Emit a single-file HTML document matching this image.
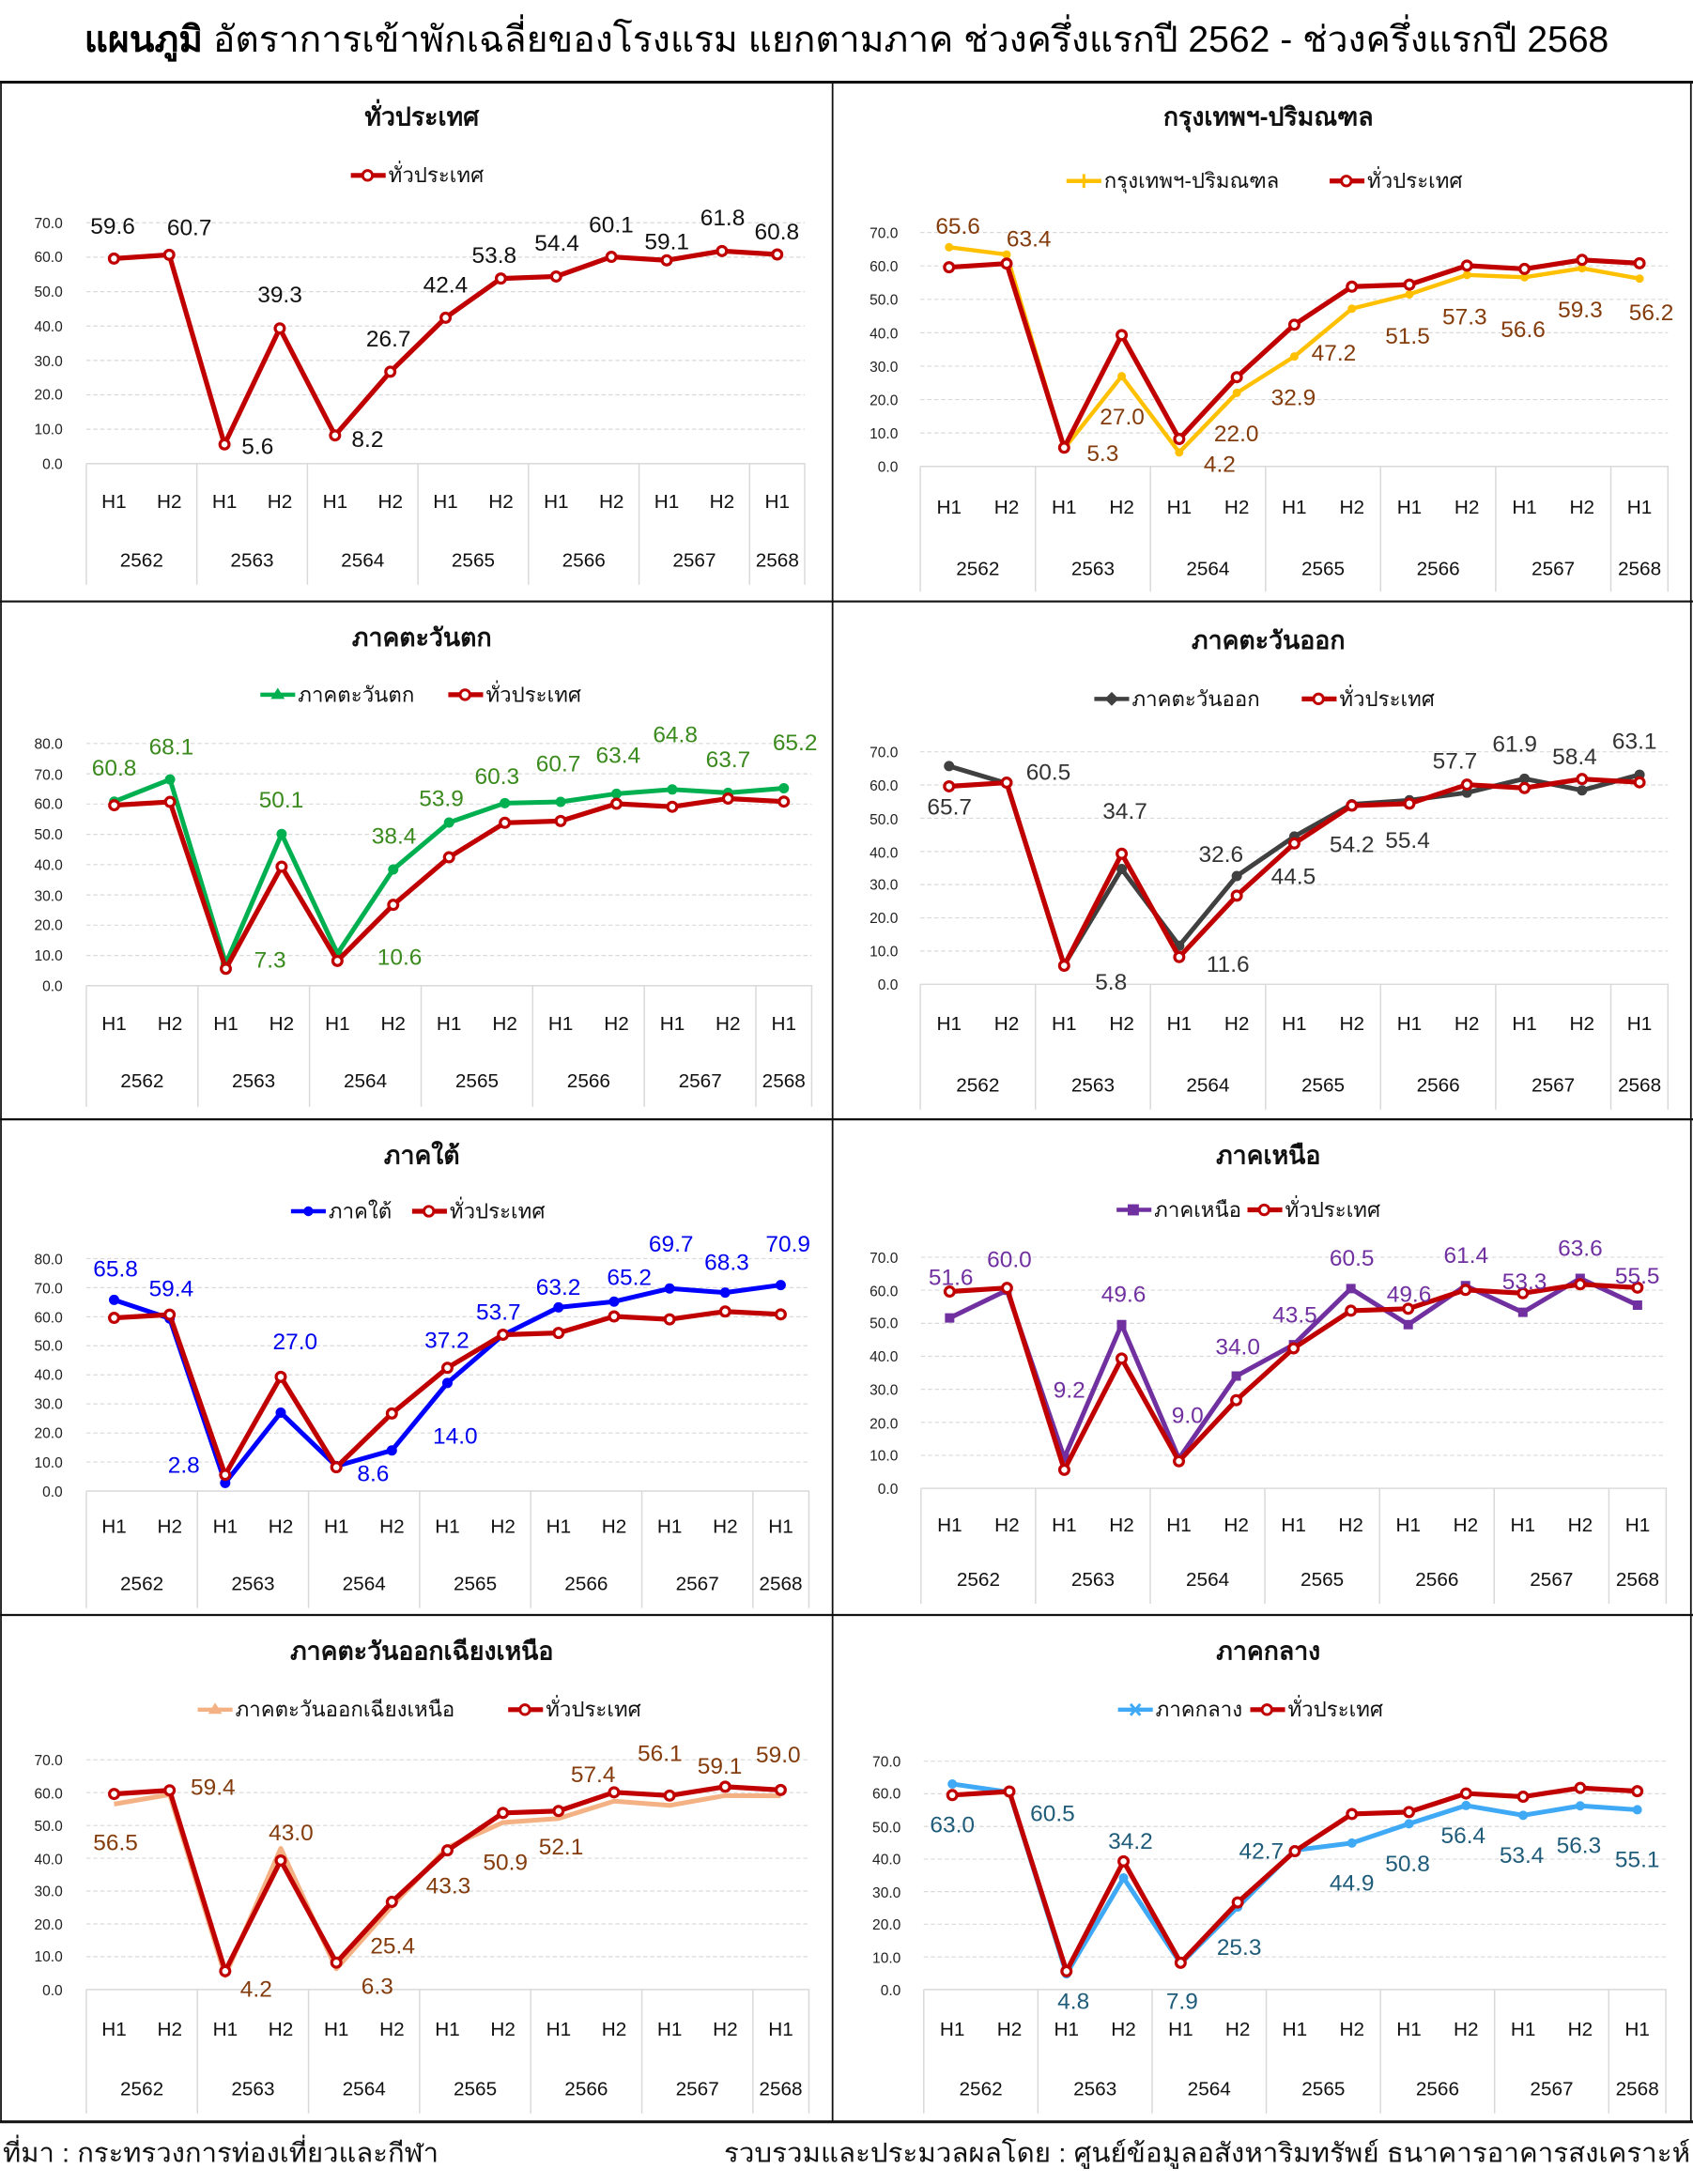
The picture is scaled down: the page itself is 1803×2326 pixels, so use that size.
<!DOCTYPE html>
<html><head><meta charset="utf-8"><style>
html,body{margin:0;padding:0;background:#fff;}
svg{display:block;}
text{font-family:"Liberation Sans Narrow","Liberation Sans",sans-serif;}
.t{font-size:26px;text-anchor:middle;fill:#000;}
.pt{font-size:18px;font-weight:bold;text-anchor:middle;fill:#111;}
.lg{font-size:15px;fill:#111;}
.tk{font-size:10.5px;text-anchor:end;fill:#222;}
.h{font-size:14px;text-anchor:middle;fill:#111;}
.y{font-size:14px;text-anchor:middle;fill:#111;}
.v{font-size:16.5px;text-anchor:middle;}
.grid{stroke:#d9d9d9;stroke-width:0.8;stroke-dasharray:3 2;fill:none;}
.ax{stroke:#d9d9d9;stroke-width:1;fill:none;}
.ln{fill:none;vector-effect:non-scaling-stroke;stroke-linejoin:round;}
.mk{fill:none;vector-effect:non-scaling-stroke;stroke-linecap:round;}
.ft{font-size:19px;fill:#111;}
</style></head><body>
<svg width="1803" height="2326" viewBox="0 0 1216 1568.7" preserveAspectRatio="none" xmlns="http://www.w3.org/2000/svg">
<rect width="1216" height="1569" fill="#fff"/>
<text class="t" x="608" y="37" textLength="1095" lengthAdjust="spacingAndGlyphs"><tspan font-weight="bold">แผนภูมิ</tspan> อัตราการเข้าพักเฉลี่ยของโรงแรม แยกตามภาค ช่วงครึ่งแรกปี 2562 - ช่วงครึ่งแรกปี 2568</text>

<g stroke="#111" fill="none">
<line x1="0" y1="59" x2="1216" y2="59" stroke-width="2"/>
<line x1="0" y1="432" x2="1216" y2="432" stroke-width="1.5"/>
<line x1="0" y1="804" x2="1216" y2="804" stroke-width="1.5"/>
<line x1="0" y1="1160" x2="1216" y2="1160" stroke-width="1.5"/>
<line x1="0" y1="1524" x2="1216" y2="1524" stroke-width="2"/>
<line x1="0.7" y1="59" x2="0.7" y2="1524" stroke-width="1.2"/>
<line x1="598" y1="59" x2="598" y2="1524" stroke-width="1.2"/>
<line x1="1214.5" y1="59" x2="1214.5" y2="1524" stroke-width="1.2"/>
</g>

<!-- P1 -->
<text class="pt" x="303" y="90">ทั่วประเทศ</text>
<g><line x1="252" y1="126" x2="277" y2="126" stroke="#C00000" stroke-width="3.5"/><circle cx="264" cy="126" r="3.5" fill="#fff" stroke="#C00000" stroke-width="2"/><text class="lg" x="279" y="131">ทั่วประเทศ</text></g>
<path class="grid" d="M62 308.3H578M62 283.6H578M62 258.9H578M62 234.2H578M62 209.5H578M62 184.7H578M62 160H578"/>
<path class="ax" d="M62 333H578V420M62 333V420M141.4 333V420M220.8 333V420M300.2 333V420M379.6 333V420M459 333V420M538.4 333V420"/>
<g class="tk"><text x="45" y="337">0.0</text><text x="45" y="312">10.0</text><text x="45" y="287">20.0</text><text x="45" y="263">30.0</text><text x="45" y="238">40.0</text><text x="45" y="213">50.0</text><text x="45" y="188">60.0</text><text x="45" y="164">70.0</text></g>
<g class="h"><text x="81.9" y="365">H1</text><text x="121.6" y="365">H2</text><text x="161.3" y="365">H1</text><text x="201" y="365">H2</text><text x="240.7" y="365">H1</text><text x="280.4" y="365">H2</text><text x="320" y="365">H1</text><text x="359.8" y="365">H2</text><text x="399.5" y="365">H1</text><text x="439.2" y="365">H2</text><text x="478.9" y="365">H1</text><text x="518.6" y="365">H2</text><text x="558.3" y="365">H1</text></g>
<g class="y"><text x="101.7" y="407">2562</text><text x="181.1" y="407">2563</text><text x="260.5" y="407">2564</text><text x="339.9" y="407">2565</text><text x="419.3" y="407">2566</text><text x="498.7" y="407">2567</text><text x="558.3" y="407">2568</text></g>
<g transform="translate(81.85,333) scale(39.7,-2.471)">
<path class="ln" stroke="#C00000" stroke-width="5.2" d="M0 59.6L1 60.7L2 5.6L3 39.3L4 8.2L5 26.7L6 42.4L7 53.8L8 54.4L9 60.1L10 59.1L11 61.8L12 60.8"/>
<path class="mk" stroke="#C00000" stroke-width="13" d="M0 59.6h0M1 60.7h0M2 5.6h0M3 39.3h0M4 8.2h0M5 26.7h0M6 42.4h0M7 53.8h0M8 54.4h0M9 60.1h0M10 59.1h0M11 61.8h0M12 60.8h0"/>
<path class="mk" stroke="#fff" stroke-width="6.5" d="M0 59.6h0M1 60.7h0M2 5.6h0M3 39.3h0M4 8.2h0M5 26.7h0M6 42.4h0M7 53.8h0M8 54.4h0M9 60.1h0M10 59.1h0M11 61.8h0M12 60.8h0"/>
</g>
<g class="v" fill="#111"><text x="81" y="168">59.6</text><text x="136" y="169">60.7</text><text x="185" y="326">5.6</text><text x="201" y="217">39.3</text><text x="264" y="321">8.2</text><text x="279" y="249">26.7</text><text x="320" y="210">42.4</text><text x="355" y="189">53.8</text><text x="400" y="180">54.4</text><text x="439" y="167">60.1</text><text x="479" y="179">59.1</text><text x="519" y="162">61.8</text><text x="558" y="172">60.8</text></g>

<!-- P2 -->
<text class="pt" x="911" y="90">กรุงเทพฯ-ปริมณฑล</text>
<g><line x1="766" y1="130" x2="791" y2="130" stroke="#FFC000" stroke-width="3"/><path d="M778.5 125v10M773.5 130h10" stroke="#FFC000" stroke-width="2"/><text class="lg" x="793" y="135">กรุงเทพฯ-ปริมณฑล</text>
<line x1="955" y1="130" x2="980" y2="130" stroke="#C00000" stroke-width="3.5"/><circle cx="967" cy="130" r="3.5" fill="#fff" stroke="#C00000" stroke-width="2"/><text class="lg" x="982" y="135">ทั่วประเทศ</text></g>
<path class="grid" d="M661 311H1198M661 287H1198M661 263H1198M661 239H1198M661 215H1198M661 191H1198M661 167H1198"/>
<path class="ax" d="M661 335H1198V425M661 335V425M743.7 335V425M826.3 335V425M909 335V425M991.6 335V425M1074.3 335V425M1157 335V425"/>
<g class="tk"><text x="645" y="339">0.0</text><text x="645" y="315">10.0</text><text x="645" y="291">20.0</text><text x="645" y="267">30.0</text><text x="645" y="243">40.0</text><text x="645" y="219">50.0</text><text x="645" y="195">60.0</text><text x="645" y="171">70.0</text></g>
<g class="h"><text x="681.7" y="369">H1</text><text x="723" y="369">H2</text><text x="764.3" y="369">H1</text><text x="805.7" y="369">H2</text><text x="847" y="369">H1</text><text x="888.3" y="369">H2</text><text x="929.6" y="369">H1</text><text x="971" y="369">H2</text><text x="1012.3" y="369">H1</text><text x="1053.6" y="369">H2</text><text x="1095" y="369">H1</text><text x="1136.3" y="369">H2</text><text x="1177.6" y="369">H1</text></g>
<g class="y"><text x="702.3" y="413">2562</text><text x="785" y="413">2563</text><text x="867.6" y="413">2564</text><text x="950.3" y="413">2565</text><text x="1033" y="413">2566</text><text x="1115.6" y="413">2567</text><text x="1177.6" y="413">2568</text></g>
<g transform="translate(681.67,335) scale(41.33,-2.4)">
<path class="ln" stroke="#FFC000" stroke-width="4.4" d="M0 65.6L1 63.4L2 5.3L3 27L4 4.2L5 22L6 32.9L7 47.2L8 51.5L9 57.3L10 56.6L11 59.3L12 56.2"/>
<path class="mk" stroke="#FFC000" stroke-width="9" d="M0 65.6h0M1 63.4h0M2 5.3h0M3 27h0M4 4.2h0M5 22h0M6 32.9h0M7 47.2h0M8 51.5h0M9 57.3h0M10 56.6h0M11 59.3h0M12 56.2h0"/>
<path class="ln" stroke="#C00000" stroke-width="5.2" d="M0 59.6L1 60.7L2 5.6L3 39.3L4 8.2L5 26.7L6 42.4L7 53.8L8 54.4L9 60.1L10 59.1L11 61.8L12 60.8"/>
<path class="mk" stroke="#C00000" stroke-width="13" d="M0 59.6h0M1 60.7h0M2 5.6h0M3 39.3h0M4 8.2h0M5 26.7h0M6 42.4h0M7 53.8h0M8 54.4h0M9 60.1h0M10 59.1h0M11 61.8h0M12 60.8h0"/>
<path class="mk" stroke="#fff" stroke-width="6.5" d="M0 59.6h0M1 60.7h0M2 5.6h0M3 39.3h0M4 8.2h0M5 26.7h0M6 42.4h0M7 53.8h0M8 54.4h0M9 60.1h0M10 59.1h0M11 61.8h0M12 60.8h0"/>
</g>
<g class="v" fill="#843C0C"><text x="688" y="168">65.6</text><text x="739" y="177">63.4</text><text x="792" y="331">5.3</text><text x="806" y="305">27.0</text><text x="876" y="339">4.2</text><text x="888" y="317">22.0</text><text x="929" y="291">32.9</text><text x="958" y="259">47.2</text><text x="1011" y="247">51.5</text><text x="1052" y="233">57.3</text><text x="1094" y="242">56.6</text><text x="1135" y="228">59.3</text><text x="1186" y="230">56.2</text></g>

<!-- P3 -->
<text class="pt" x="303" y="464">ภาคตะวันตก</text>
<g><line x1="187" y1="499" x2="212" y2="499" stroke="#00B050" stroke-width="3"/><path d="M199.5 494l5 8h-10z" fill="#00B050"/><text class="lg" x="214" y="504">ภาคตะวันตก</text>
<line x1="322" y1="499" x2="347" y2="499" stroke="#C00000" stroke-width="3.5"/><circle cx="334" cy="499" r="3.5" fill="#fff" stroke="#C00000" stroke-width="2"/><text class="lg" x="349" y="504">ทั่วประเทศ</text></g>
<path class="grid" d="M62 686.3H583M62 664.5H583M62 642.8H583M62 621H583M62 599.3H583M62 577.5H583M62 555.8H583M62 534H583"/>
<path class="ax" d="M62 708H583V795M62 708V795M142.2 708V795M222.3 708V795M302.5 708V795M382.6 708V795M462.8 708V795M542.9 708V795"/>
<g class="tk"><text x="45" y="712">0.0</text><text x="45" y="690">10.0</text><text x="45" y="668">20.0</text><text x="45" y="647">30.0</text><text x="45" y="625">40.0</text><text x="45" y="603">50.0</text><text x="45" y="581">60.0</text><text x="45" y="560">70.0</text><text x="45" y="538">80.0</text></g>
<g class="h"><text x="82" y="740">H1</text><text x="122.1" y="740">H2</text><text x="162.2" y="740">H1</text><text x="202.3" y="740">H2</text><text x="242.4" y="740">H1</text><text x="282.4" y="740">H2</text><text x="322.5" y="740">H1</text><text x="362.6" y="740">H2</text><text x="402.7" y="740">H1</text><text x="442.8" y="740">H2</text><text x="482.9" y="740">H1</text><text x="522.9" y="740">H2</text><text x="563" y="740">H1</text></g>
<g class="y"><text x="102.1" y="781">2562</text><text x="182.2" y="781">2563</text><text x="262.4" y="781">2564</text><text x="342.6" y="781">2565</text><text x="422.8" y="781">2566</text><text x="502.9" y="781">2567</text><text x="563" y="781">2568</text></g>
<g transform="translate(82.04,708) scale(40.08,-2.175)">
<path class="ln" stroke="#00B050" stroke-width="5" d="M0 60.8L1 68.1L2 7.3L3 50.1L4 10.6L5 38.4L6 53.9L7 60.3L8 60.7L9 63.4L10 64.8L11 63.7L12 65.2"/>
<path class="mk" stroke="#00B050" stroke-width="11" d="M0 60.8h0M1 68.1h0M2 7.3h0M3 50.1h0M4 10.6h0M5 38.4h0M6 53.9h0M7 60.3h0M8 60.7h0M9 63.4h0M10 64.8h0M11 63.7h0M12 65.2h0"/>
<path class="ln" stroke="#C00000" stroke-width="5.2" d="M0 59.6L1 60.7L2 5.6L3 39.3L4 8.2L5 26.7L6 42.4L7 53.8L8 54.4L9 60.1L10 59.1L11 61.8L12 60.8"/>
<path class="mk" stroke="#C00000" stroke-width="13" d="M0 59.6h0M1 60.7h0M2 5.6h0M3 39.3h0M4 8.2h0M5 26.7h0M6 42.4h0M7 53.8h0M8 54.4h0M9 60.1h0M10 59.1h0M11 61.8h0M12 60.8h0"/>
<path class="mk" stroke="#fff" stroke-width="6.5" d="M0 59.6h0M1 60.7h0M2 5.6h0M3 39.3h0M4 8.2h0M5 26.7h0M6 42.4h0M7 53.8h0M8 54.4h0M9 60.1h0M10 59.1h0M11 61.8h0M12 60.8h0"/>
</g>
<g class="v" fill="#3A8A1E"><text x="82" y="557">60.8</text><text x="123" y="542">68.1</text><text x="194" y="695">7.3</text><text x="202" y="580">50.1</text><text x="287" y="693">10.6</text><text x="283" y="606">38.4</text><text x="317" y="579">53.9</text><text x="357" y="563">60.3</text><text x="401" y="554">60.7</text><text x="444" y="548">63.4</text><text x="485" y="533">64.8</text><text x="523" y="551">63.7</text><text x="571" y="539">65.2</text></g>

<!-- P4 -->
<text class="pt" x="911" y="466">ภาคตะวันออก</text>
<g><line x1="786" y1="502" x2="811" y2="502" stroke="#404040" stroke-width="3"/><path d="M798.5 497l5 5-5 5-5-5z" fill="#404040"/><text class="lg" x="813" y="507">ภาคตะวันออก</text>
<line x1="935" y1="502" x2="960" y2="502" stroke="#C00000" stroke-width="3.5"/><circle cx="947" cy="502" r="3.5" fill="#fff" stroke="#C00000" stroke-width="2"/><text class="lg" x="962" y="507">ทั่วประเทศ</text></g>
<path class="grid" d="M661 683.1H1198M661 659.3H1198M661 635.4H1198M661 611.6H1198M661 587.7H1198M661 563.8H1198M661 540H1198"/>
<path class="ax" d="M661 707H1198V797M661 707V797M743.7 707V797M826.3 707V797M909 707V797M991.6 707V797M1074.3 707V797M1157 707V797"/>
<g class="tk"><text x="645" y="711">0.0</text><text x="645" y="687">10.0</text><text x="645" y="663">20.0</text><text x="645" y="639">30.0</text><text x="645" y="616">40.0</text><text x="645" y="592">50.0</text><text x="645" y="568">60.0</text><text x="645" y="544">70.0</text></g>
<g class="h"><text x="681.7" y="740">H1</text><text x="723" y="740">H2</text><text x="764.3" y="740">H1</text><text x="805.7" y="740">H2</text><text x="847" y="740">H1</text><text x="888.3" y="740">H2</text><text x="929.6" y="740">H1</text><text x="971" y="740">H2</text><text x="1012.3" y="740">H1</text><text x="1053.6" y="740">H2</text><text x="1095" y="740">H1</text><text x="1136.3" y="740">H2</text><text x="1177.6" y="740">H1</text></g>
<g class="y"><text x="702.3" y="784">2562</text><text x="785" y="784">2563</text><text x="867.6" y="784">2564</text><text x="950.3" y="784">2565</text><text x="1033" y="784">2566</text><text x="1115.6" y="784">2567</text><text x="1177.6" y="784">2568</text></g>
<g transform="translate(681.67,707) scale(41.33,-2.386)">
<path class="ln" stroke="#404040" stroke-width="5" d="M0 65.7L1 60.5L2 5.8L3 34.7L4 11.6L5 32.6L6 44.5L7 54.2L8 55.4L9 57.7L10 61.9L11 58.4L12 63.1"/>
<path class="mk" stroke="#404040" stroke-width="11" d="M0 65.7h0M1 60.5h0M2 5.8h0M3 34.7h0M4 11.6h0M5 32.6h0M6 44.5h0M7 54.2h0M8 55.4h0M9 57.7h0M10 61.9h0M11 58.4h0M12 63.1h0"/>
<path class="ln" stroke="#C00000" stroke-width="5.2" d="M0 59.6L1 60.7L2 5.6L3 39.3L4 8.2L5 26.7L6 42.4L7 53.8L8 54.4L9 60.1L10 59.1L11 61.8L12 60.8"/>
<path class="mk" stroke="#C00000" stroke-width="13" d="M0 59.6h0M1 60.7h0M2 5.6h0M3 39.3h0M4 8.2h0M5 26.7h0M6 42.4h0M7 53.8h0M8 54.4h0M9 60.1h0M10 59.1h0M11 61.8h0M12 60.8h0"/>
<path class="mk" stroke="#fff" stroke-width="6.5" d="M0 59.6h0M1 60.7h0M2 5.6h0M3 39.3h0M4 8.2h0M5 26.7h0M6 42.4h0M7 53.8h0M8 54.4h0M9 60.1h0M10 59.1h0M11 61.8h0M12 60.8h0"/>
</g>
<g class="v" fill="#333"><text x="682" y="585">65.7</text><text x="753" y="560">60.5</text><text x="798" y="711">5.8</text><text x="808" y="588">34.7</text><text x="882" y="698">11.6</text><text x="877" y="619">32.6</text><text x="929" y="635">44.5</text><text x="971" y="612">54.2</text><text x="1011" y="609">55.4</text><text x="1045" y="552">57.7</text><text x="1088" y="540">61.9</text><text x="1131" y="549">58.4</text><text x="1174" y="538">63.1</text></g>

<!-- P5 -->
<text class="pt" x="303" y="836">ภาคใต้</text>
<g><line x1="209" y1="870" x2="234" y2="870" stroke="#0000FF" stroke-width="3"/><circle cx="221.5" cy="870" r="3.5" fill="#0000FF"/><text class="lg" x="236" y="875">ภาคใต้</text>
<line x1="296" y1="870" x2="321" y2="870" stroke="#C00000" stroke-width="3.5"/><circle cx="308" cy="870" r="3.5" fill="#fff" stroke="#C00000" stroke-width="2"/><text class="lg" x="323" y="875">ทั่วประเทศ</text></g>
<path class="grid" d="M62 1050.1H581M62 1029.3H581M62 1008.4H581M62 987.5H581M62 966.6H581M62 945.8H581M62 924.9H581M62 904H581"/>
<path class="ax" d="M62 1071H581V1155M62 1071V1155M141.8 1071V1155M221.6 1071V1155M301.4 1071V1155M381.2 1071V1155M461 1071V1155M540.8 1071V1155"/>
<g class="tk"><text x="45" y="1075">0.0</text><text x="45" y="1054">10.0</text><text x="45" y="1033">20.0</text><text x="45" y="1012">30.0</text><text x="45" y="991">40.0</text><text x="45" y="970">50.0</text><text x="45" y="950">60.0</text><text x="45" y="929">70.0</text><text x="45" y="908">80.0</text></g>
<g class="h"><text x="82" y="1101">H1</text><text x="121.9" y="1101">H2</text><text x="161.8" y="1101">H1</text><text x="201.7" y="1101">H2</text><text x="241.6" y="1101">H1</text><text x="281.5" y="1101">H2</text><text x="321.4" y="1101">H1</text><text x="361.3" y="1101">H2</text><text x="401.2" y="1101">H1</text><text x="441.1" y="1101">H2</text><text x="481" y="1101">H1</text><text x="520.9" y="1101">H2</text><text x="560.8" y="1101">H1</text></g>
<g class="y"><text x="101.9" y="1142">2562</text><text x="181.7" y="1142">2563</text><text x="261.5" y="1142">2564</text><text x="341.3" y="1142">2565</text><text x="421.1" y="1142">2566</text><text x="500.9" y="1142">2567</text><text x="560.8" y="1142">2568</text></g>
<g transform="translate(81.95,1071) scale(39.9,-2.0875)">
<path class="ln" stroke="#0000FF" stroke-width="5" d="M0 65.8L1 59.4L2 2.8L3 27L4 8.6L5 14L6 37.2L7 53.7L8 63.2L9 65.2L10 69.7L11 68.3L12 70.9"/>
<path class="mk" stroke="#0000FF" stroke-width="11" d="M0 65.8h0M1 59.4h0M2 2.8h0M3 27h0M4 8.6h0M5 14h0M6 37.2h0M7 53.7h0M8 63.2h0M9 65.2h0M10 69.7h0M11 68.3h0M12 70.9h0"/>
<path class="ln" stroke="#C00000" stroke-width="5.2" d="M0 59.6L1 60.7L2 5.6L3 39.3L4 8.2L5 26.7L6 42.4L7 53.8L8 54.4L9 60.1L10 59.1L11 61.8L12 60.8"/>
<path class="mk" stroke="#C00000" stroke-width="13" d="M0 59.6h0M1 60.7h0M2 5.6h0M3 39.3h0M4 8.2h0M5 26.7h0M6 42.4h0M7 53.8h0M8 54.4h0M9 60.1h0M10 59.1h0M11 61.8h0M12 60.8h0"/>
<path class="mk" stroke="#fff" stroke-width="6.5" d="M0 59.6h0M1 60.7h0M2 5.6h0M3 39.3h0M4 8.2h0M5 26.7h0M6 42.4h0M7 53.8h0M8 54.4h0M9 60.1h0M10 59.1h0M11 61.8h0M12 60.8h0"/>
</g>
<g class="v" fill="#0000EE"><text x="83" y="917">65.8</text><text x="123" y="931">59.4</text><text x="132" y="1058">2.8</text><text x="212" y="969">27.0</text><text x="268" y="1064">8.6</text><text x="327" y="1037">14.0</text><text x="321" y="968">37.2</text><text x="358" y="948">53.7</text><text x="401" y="930">63.2</text><text x="452" y="923">65.2</text><text x="482" y="899">69.7</text><text x="522" y="912">68.3</text><text x="566" y="899">70.9</text></g>

<!-- P6 -->
<text class="pt" x="911" y="836">ภาคเหนือ</text>
<g><line x1="802" y1="869" x2="827" y2="869" stroke="#7030A0" stroke-width="3"/><rect x="810" y="865" width="8" height="8" fill="#7030A0"/><text class="lg" x="829" y="874">ภาคเหนือ</text>
<line x1="896" y1="869" x2="921" y2="869" stroke="#C00000" stroke-width="3.5"/><circle cx="908" cy="869" r="3.5" fill="#fff" stroke="#C00000" stroke-width="2"/><text class="lg" x="923" y="874">ทั่วประเทศ</text></g>
<path class="grid" d="M661.5 1045.3H1196.7M661.5 1021.6H1196.7M661.5 997.9H1196.7M661.5 974.2H1196.7M661.5 950.5H1196.7M661.5 926.7H1196.7M661.5 903H1196.7"/>
<path class="ax" d="M661.5 1069H1196.7V1152M661.5 1069V1152M743.8 1069V1152M826.2 1069V1152M908.5 1069V1152M990.9 1069V1152M1073.2 1069V1152M1155.6 1069V1152"/>
<g class="tk"><text x="645" y="1073">0.0</text><text x="645" y="1049">10.0</text><text x="645" y="1026">20.0</text><text x="645" y="1002">30.0</text><text x="645" y="978">40.0</text><text x="645" y="954">50.0</text><text x="645" y="931">60.0</text><text x="645" y="907">70.0</text></g>
<g class="h"><text x="682.1" y="1100">H1</text><text x="723.3" y="1100">H2</text><text x="764.4" y="1100">H1</text><text x="805.6" y="1100">H2</text><text x="846.8" y="1100">H1</text><text x="888" y="1100">H2</text><text x="929.1" y="1100">H1</text><text x="970.3" y="1100">H2</text><text x="1011.5" y="1100">H1</text><text x="1052.7" y="1100">H2</text><text x="1093.8" y="1100">H1</text><text x="1135" y="1100">H2</text><text x="1176.2" y="1100">H1</text></g>
<g class="y"><text x="702.7" y="1139">2562</text><text x="785" y="1139">2563</text><text x="867.4" y="1139">2564</text><text x="949.7" y="1139">2565</text><text x="1032.1" y="1139">2566</text><text x="1114.4" y="1139">2567</text><text x="1176.2" y="1139">2568</text></g>
<g transform="translate(682.09,1069) scale(41.17,-2.371)">
<path class="ln" stroke="#7030A0" stroke-width="5" d="M0 51.6L1 60L2 9.2L3 49.6L4 9L5 34L6 43.5L7 60.5L8 49.6L9 61.4L10 53.3L11 63.6L12 55.5"/>
<path class="mk" stroke="#7030A0" stroke-width="10" style="stroke-linecap:square" d="M0 51.6h0M1 60h0M2 9.2h0M3 49.6h0M4 9h0M5 34h0M6 43.5h0M7 60.5h0M8 49.6h0M9 61.4h0M10 53.3h0M11 63.6h0M12 55.5h0"/>
<path class="ln" stroke="#C00000" stroke-width="5.2" d="M0 59.6L1 60.7L2 5.6L3 39.3L4 8.2L5 26.7L6 42.4L7 53.8L8 54.4L9 60.1L10 59.1L11 61.8L12 60.8"/>
<path class="mk" stroke="#C00000" stroke-width="13" d="M0 59.6h0M1 60.7h0M2 5.6h0M3 39.3h0M4 8.2h0M5 26.7h0M6 42.4h0M7 53.8h0M8 54.4h0M9 60.1h0M10 59.1h0M11 61.8h0M12 60.8h0"/>
<path class="mk" stroke="#fff" stroke-width="6.5" d="M0 59.6h0M1 60.7h0M2 5.6h0M3 39.3h0M4 8.2h0M5 26.7h0M6 42.4h0M7 53.8h0M8 54.4h0M9 60.1h0M10 59.1h0M11 61.8h0M12 60.8h0"/>
</g>
<g class="v" fill="#7030A0"><text x="683" y="923">51.6</text><text x="725" y="910">60.0</text><text x="768" y="1004">9.2</text><text x="807" y="935">49.6</text><text x="853" y="1022">9.0</text><text x="889" y="973">34.0</text><text x="930" y="950">43.5</text><text x="971" y="909">60.5</text><text x="1012" y="935">49.6</text><text x="1053" y="907">61.4</text><text x="1095" y="926">53.3</text><text x="1135" y="902">63.6</text><text x="1176" y="922">55.5</text></g>

<!-- P7 -->
<text class="pt" x="303" y="1192">ภาคตะวันออกเฉียงเหนือ</text>
<g><line x1="142" y1="1228" x2="167" y2="1228" stroke="#F4B183" stroke-width="3"/><path d="M154.5 1223l5 8h-10z" fill="#F4B183"/><text class="lg" x="169" y="1233">ภาคตะวันออกเฉียงเหนือ</text>
<line x1="365" y1="1228" x2="390" y2="1228" stroke="#C00000" stroke-width="3.5"/><circle cx="377" cy="1228" r="3.5" fill="#fff" stroke="#C00000" stroke-width="2"/><text class="lg" x="392" y="1233">ทั่วประเทศ</text></g>
<path class="grid" d="M62 1405.4H581M62 1381.9H581M62 1358.3H581M62 1334.7H581M62 1311.2H581M62 1287.6H581M62 1264H581"/>
<path class="ax" d="M62 1429H581V1518M62 1429V1518M141.8 1429V1518M221.6 1429V1518M301.4 1429V1518M381.2 1429V1518M461 1429V1518M540.8 1429V1518"/>
<g class="tk"><text x="45" y="1433">0.0</text><text x="45" y="1409">10.0</text><text x="45" y="1386">20.0</text><text x="45" y="1362">30.0</text><text x="45" y="1339">40.0</text><text x="45" y="1315">50.0</text><text x="45" y="1292">60.0</text><text x="45" y="1268">70.0</text></g>
<g class="h"><text x="82" y="1462">H1</text><text x="121.9" y="1462">H2</text><text x="161.8" y="1462">H1</text><text x="201.7" y="1462">H2</text><text x="241.6" y="1462">H1</text><text x="281.5" y="1462">H2</text><text x="321.4" y="1462">H1</text><text x="361.3" y="1462">H2</text><text x="401.2" y="1462">H1</text><text x="441.1" y="1462">H2</text><text x="481" y="1462">H1</text><text x="520.9" y="1462">H2</text><text x="560.8" y="1462">H1</text></g>
<g class="y"><text x="101.9" y="1505">2562</text><text x="181.7" y="1505">2563</text><text x="261.5" y="1505">2564</text><text x="341.3" y="1505">2565</text><text x="421.1" y="1505">2566</text><text x="500.9" y="1505">2567</text><text x="560.8" y="1505">2568</text></g>
<g transform="translate(81.95,1429) scale(39.9,-2.357)">
<path class="ln" stroke="#F4B183" stroke-width="5" d="M0 56.5L1 59.4L2 4.2L3 43L4 6.3L5 25.4L6 43.3L7 50.9L8 52.1L9 57.4L10 56.1L11 59.1L12 59"/>
<path class="ln" stroke="#C00000" stroke-width="5.2" d="M0 59.6L1 60.7L2 5.6L3 39.3L4 8.2L5 26.7L6 42.4L7 53.8L8 54.4L9 60.1L10 59.1L11 61.8L12 60.8"/>
<path class="mk" stroke="#C00000" stroke-width="13" d="M0 59.6h0M1 60.7h0M2 5.6h0M3 39.3h0M4 8.2h0M5 26.7h0M6 42.4h0M7 53.8h0M8 54.4h0M9 60.1h0M10 59.1h0M11 61.8h0M12 60.8h0"/>
<path class="mk" stroke="#fff" stroke-width="6.5" d="M0 59.6h0M1 60.7h0M2 5.6h0M3 39.3h0M4 8.2h0M5 26.7h0M6 42.4h0M7 53.8h0M8 54.4h0M9 60.1h0M10 59.1h0M11 61.8h0M12 60.8h0"/>
</g>
<g class="v" fill="#843C0C"><text x="83" y="1329">56.5</text><text x="153" y="1289">59.4</text><text x="184" y="1434">4.2</text><text x="209" y="1322">43.0</text><text x="271" y="1432">6.3</text><text x="282" y="1403">25.4</text><text x="322" y="1360">43.3</text><text x="363" y="1343">50.9</text><text x="403" y="1332">52.1</text><text x="426" y="1280">57.4</text><text x="474" y="1265">56.1</text><text x="517" y="1274">59.1</text><text x="559" y="1266">59.0</text></g>

<!-- P8 -->
<text class="pt" x="911" y="1192">ภาคกลาง</text>
<g><line x1="803" y1="1228" x2="828" y2="1228" stroke="#3FA9F5" stroke-width="3"/><path d="M812 1224l7 8M819 1224l-7 8" stroke="#3FA9F5" stroke-width="2"/><text class="lg" x="830" y="1233">ภาคกลาง</text>
<line x1="898" y1="1228" x2="923" y2="1228" stroke="#C00000" stroke-width="3.5"/><circle cx="910" cy="1228" r="3.5" fill="#fff" stroke="#C00000" stroke-width="2"/><text class="lg" x="925" y="1233">ทั่วประเทศ</text></g>
<path class="grid" d="M663.5 1405.6H1196.5M663.5 1382.1H1196.5M663.5 1358.7H1196.5M663.5 1335.3H1196.5M663.5 1311.9H1196.5M663.5 1288.4H1196.5M663.5 1265H1196.5"/>
<path class="ax" d="M663.5 1429H1196.5V1518M663.5 1429V1518M745.5 1429V1518M827.5 1429V1518M909.5 1429V1518M991.5 1429V1518M1073.5 1429V1518M1155.5 1429V1518"/>
<g class="tk"><text x="647" y="1433">0.0</text><text x="647" y="1410">10.0</text><text x="647" y="1386">20.0</text><text x="647" y="1363">30.0</text><text x="647" y="1339">40.0</text><text x="647" y="1316">50.0</text><text x="647" y="1292">60.0</text><text x="647" y="1269">70.0</text></g>
<g class="h"><text x="684" y="1462">H1</text><text x="725" y="1462">H2</text><text x="766" y="1462">H1</text><text x="807" y="1462">H2</text><text x="848" y="1462">H1</text><text x="889" y="1462">H2</text><text x="930" y="1462">H1</text><text x="971" y="1462">H2</text><text x="1012" y="1462">H1</text><text x="1053" y="1462">H2</text><text x="1094" y="1462">H1</text><text x="1135" y="1462">H2</text><text x="1176" y="1462">H1</text></g>
<g class="y"><text x="704.5" y="1505">2562</text><text x="786.5" y="1505">2563</text><text x="868.5" y="1505">2564</text><text x="950.5" y="1505">2565</text><text x="1032.5" y="1505">2566</text><text x="1114.5" y="1505">2567</text><text x="1176" y="1505">2568</text></g>
<g transform="translate(684,1429) scale(41,-2.343)">
<path class="ln" stroke="#3FA9F5" stroke-width="5" d="M0 63L1 60.5L2 4.8L3 34.2L4 7.9L5 25.3L6 42.7L7 44.9L8 50.8L9 56.4L10 53.4L11 56.3L12 55.1"/>
<path class="mk" stroke="#3FA9F5" stroke-width="10" d="M0 63h0M1 60.5h0M2 4.8h0M3 34.2h0M4 7.9h0M5 25.3h0M6 42.7h0M7 44.9h0M8 50.8h0M9 56.4h0M10 53.4h0M11 56.3h0M12 55.1h0"/>
<path class="ln" stroke="#C00000" stroke-width="5.2" d="M0 59.6L1 60.7L2 5.6L3 39.3L4 8.2L5 26.7L6 42.4L7 53.8L8 54.4L9 60.1L10 59.1L11 61.8L12 60.8"/>
<path class="mk" stroke="#C00000" stroke-width="13" d="M0 59.6h0M1 60.7h0M2 5.6h0M3 39.3h0M4 8.2h0M5 26.7h0M6 42.4h0M7 53.8h0M8 54.4h0M9 60.1h0M10 59.1h0M11 61.8h0M12 60.8h0"/>
<path class="mk" stroke="#fff" stroke-width="6.5" d="M0 59.6h0M1 60.7h0M2 5.6h0M3 39.3h0M4 8.2h0M5 26.7h0M6 42.4h0M7 53.8h0M8 54.4h0M9 60.1h0M10 59.1h0M11 61.8h0M12 60.8h0"/>
</g>
<g class="v" fill="#1F5C7A"><text x="684" y="1316">63.0</text><text x="756" y="1308">60.5</text><text x="771" y="1443">4.8</text><text x="812" y="1328">34.2</text><text x="849" y="1443">7.9</text><text x="890" y="1404">25.3</text><text x="906" y="1335">42.7</text><text x="971" y="1358">44.9</text><text x="1011" y="1344">50.8</text><text x="1051" y="1324">56.4</text><text x="1093" y="1338">53.4</text><text x="1134" y="1331">56.3</text><text x="1176" y="1341">55.1</text></g>

<text class="ft" x="2" y="1553" textLength="313" lengthAdjust="spacingAndGlyphs">ที่มา : กระทรวงการท่องเที่ยวและกีฬา</text>
<text class="ft" x="520" y="1553" textLength="694" lengthAdjust="spacingAndGlyphs">รวบรวมและประมวลผลโดย : ศูนย์ข้อมูลอสังหาริมทรัพย์ ธนาคารอาคารสงเคราะห์</text>
</svg>
</body></html>
